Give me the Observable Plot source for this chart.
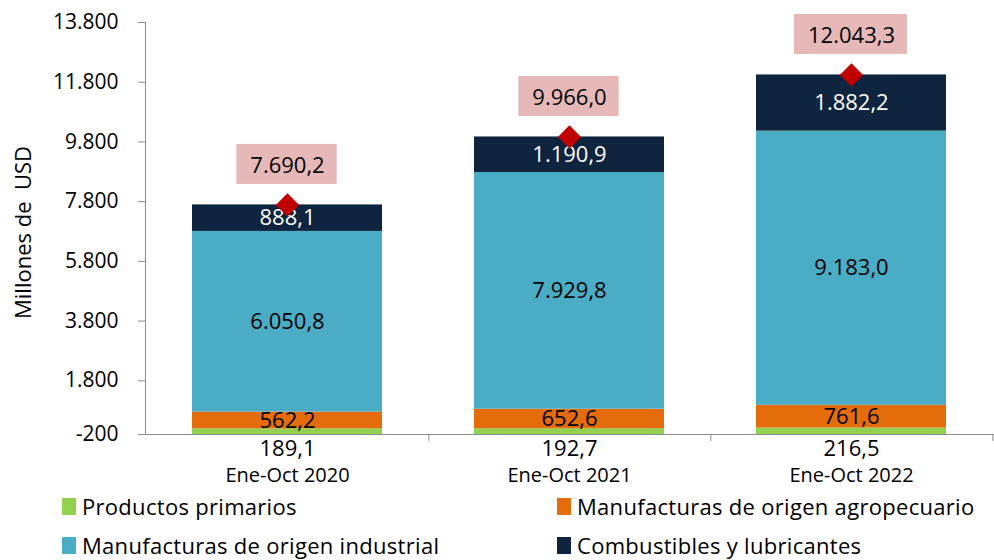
<!DOCTYPE html>
<html>
<head>
<meta charset="utf-8">
<script src="https://cdn.jsdelivr.net/npm/d3@7"></script>
<script src="https://cdn.jsdelivr.net/npm/@observablehq/plot@0.6"></script>
<style>
  html, body { margin: 0; padding: 0; background: #fff; }
  body { font-family: "Open Sans", Lato, sans-serif; color: #000; width: 994px; height: 560px; overflow: hidden; }
  #legend { display: grid; grid-template-columns: 495px auto; padding-left: 62px; padding-top: 2px; font-size: 22px; letter-spacing: 0.3px; }
  #legend .item { display: flex; align-items: center; height: 39px; white-space: nowrap; line-height: 1.1; }
  #legend .sw { width: 14px; height: 17px; margin-right: 6px; flex: none; }
</style>
</head>
<body>
<div id="chart"></div>
<div id="legend"></div>
<script>
// ---- Data ----
const categories = ["Ene-Oct 2020", "Ene-Oct 2021", "Ene-Oct 2022"];
const seriesNames = [
  "Productos primarios",
  "Manufacturas de origen agropecuario",
  "Manufacturas de origen industrial",
  "Combustibles y lubricantes"
];
const seriesColors = ["#92D050", "#E46C0A", "#4BACC6", "#0F243E"];
const primarios    = [189.1, 192.7, 216.5];
const agro         = [562.2, 652.6, 761.6];
const industrial   = [6050.8, 7929.8, 9183.0];
const combustibles = [888.1, 1190.9, 1882.2];
const totals       = [7690.2, 9966.0, 12043.3];
// tick positions as drawn in the original (its lowest tick sits on the baseline) and their labels
const yTicks       = [0, 1800, 3800, 5800, 7800, 9800, 11800, 13800];
const yTickLabels  = ["-200", "1.800", "3.800", "5.800", "7.800", "9.800", "11.800", "13.800"];
const yTitle       = "Millones de\u00a0 USD";

// ---- Formatting (es) ----
const locale = d3.formatLocale({decimal: ",", thousands: ".", grouping: [3], currency: ["", ""], minus: "-"});
const fmt1 = locale.format(",.1f");

// ---- Tables ----
const seriesValues = [primarios, agro, industrial, combustibles];
const rows = [];
categories.forEach((c, i) => seriesNames.forEach((s, j) => rows.push({cat: c, series: s, value: seriesValues[j][i]})));
const totRows = categories.map((c, i) => ({cat: c, total: totals[i]}));
const primRows = categories.map((c, i) => ({cat: c, value: primarios[i]}));

const W = 994, H = 485, ML = 145, MR = 1, MT = 22, MB = 51;
const PAD = 0.325;
const step = (W - ML - MR) / categories.length;
const axisGray = "#8C8C8C";
const FONT = "'Open Sans', Lato, sans-serif";

const chart = Plot.plot({
  width: W, height: H,
  marginLeft: ML, marginRight: MR, marginTop: MT, marginBottom: MB,
  style: {fontFamily: FONT, fontSize: "22px", color: "#000", background: "#fff", overflow: "visible"},
  x: {domain: categories, paddingInner: PAD, paddingOuter: PAD / 2, label: null},
  y: {domain: [yTicks[0], yTicks[yTicks.length - 1]], label: null},
  color: {domain: seriesNames, range: seriesColors},
  marks: [
    Plot.barY(rows, {x: "cat", y: "value", fill: "series", order: seriesNames}),
    // segment labels (black)
    Plot.text(rows, Plot.stackY({
      x: "cat", y: "value", z: "series", order: seriesNames,
      text: d => (d.series === seriesNames[1] || d.series === seriesNames[2]) ? fmt1(d.value) : "",
      fill: "#000", fontSize: 22
    })),
    // segment labels (white, combustibles)
    Plot.text(rows, Plot.stackY({
      x: "cat", y: "value", z: "series", order: seriesNames,
      text: d => d.series === seriesNames[3] ? fmt1(d.value) : "",
      fill: "#fff", fontSize: 22
    })),
    // productos primarios labels below the axis
    Plot.text(primRows, {x: "cat", frameAnchor: "bottom", lineAnchor: "middle", dy: 14, text: d => fmt1(d.value), fill: "#000", fontSize: 22}),
    // axes
    Plot.frame({anchor: "left", stroke: axisGray}),
    Plot.frame({anchor: "bottom", stroke: axisGray}),
    Plot.ruleX(categories, {x: d => d, y1: yTicks[0], y2: yTicks[0], dx: step / 2, insetBottom: -7, stroke: axisGray}),
    Plot.axisY({
      ticks: yTicks, tickFormat: (d, i) => yTickLabels[i], tickSize: 7, tickPadding: 20,
      stroke: axisGray, fill: "#000", fontSize: 21, label: null
    }),
    Plot.text([yTitle], {frameAnchor: "left", textAnchor: "middle", lineAnchor: "middle", text: d => d, rotate: -90, dx: -122, dy: 4, fontSize: 22, fill: "#000"}),
    Plot.axisX({tickSize: 0, tickPadding: 33, fontSize: 20, fill: "#000", label: null}),
    // totals
    Plot.dot(totRows, {x: "cat", y: "total", symbol: "diamond2", r: 10.5, fill: "#C00000", stroke: null}),
    Plot.text(totRows, {x: "cat", y: "total", dy: -39, text: d => fmt1(d.total), fill: "#000", fontSize: 22, ariaDescription: "totals"})
  ]
});

document.getElementById("chart").append(chart);

// pink boxes behind the total labels
chart.querySelectorAll('g[aria-description="totals"] text').forEach(t => {
  const b = t.getBBox();
  const r = document.createElementNS("http://www.w3.org/2000/svg", "rect");
  r.setAttribute("x", b.x - 14);
  r.setAttribute("width", b.width + 26);
  r.setAttribute("y", b.y + b.height / 2 - 20);
  r.setAttribute("height", 40);
  const tr = t.getAttribute("transform");
  if (tr) r.setAttribute("transform", tr);
  r.setAttribute("fill", "#E6B9B8");
  r.setAttribute("stroke", "none");
  t.parentNode.insertBefore(r, t);
});

// legend
const legend = document.getElementById("legend");
seriesNames.forEach((s, i) => {
  const item = document.createElement("div");
  item.className = "item";
  const sw = document.createElement("span");
  sw.className = "sw";
  sw.style.background = seriesColors[i];
  const lab = document.createElement("span");
  lab.textContent = s;
  item.append(sw, lab);
  legend.append(item);
});
</script>
</body>
</html>
